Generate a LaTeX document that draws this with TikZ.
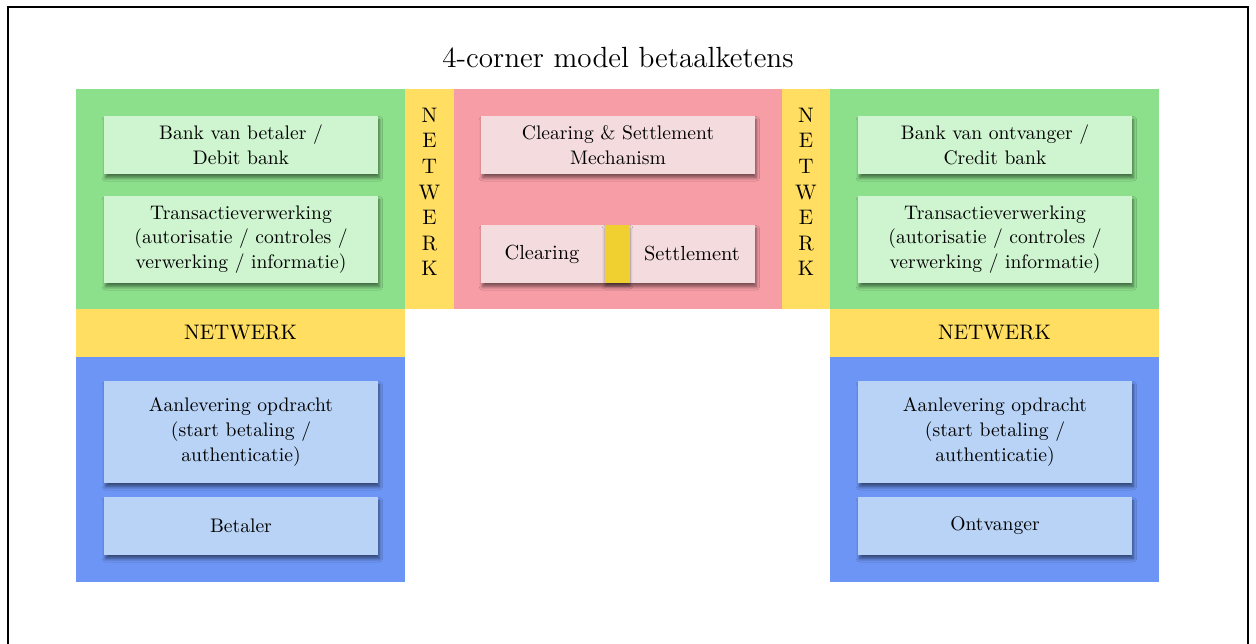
\documentclass[tikz,border=0pt]{standalone}
\usepackage{tikz}
\usetikzlibrary{shadows.blur}

\definecolor{bankgreen}{HTML}{8CE08C}
\definecolor{cardgreen}{HTML}{CEF5D0}
\definecolor{netyellow}{HTML}{FFDE62}
\definecolor{csmred}{HTML}{F79DA6}
\definecolor{cardpink}{HTML}{F4DCDE}
\definecolor{userblue}{HTML}{6D95F5}
\definecolor{cardblue}{HTML}{B8D3F5}
\definecolor{stripyellow}{HTML}{F0D030}

\tikzset{
  cardtext/.style={inner sep=0pt, align=center, font=\fontsize{9.8}{12.3}\selectfont},
  card/.style={cardtext, minimum width=137pt,
    blur shadow={shadow xshift=0.7pt, shadow yshift=-1.9pt, shadow blur radius=1.6pt, shadow blur steps=6, shadow opacity=50}},
  netlabel/.style={font=\fontsize{10.5}{12.5}\selectfont, align=center, inner sep=0pt}
}

\begin{document}
\begin{tikzpicture}[x=0.5pt,y=-0.5pt]
        \useasboundingbox (0,0) rectangle (1256,643);
        \draw[line width=0.8pt] (8,650) -- (8,7) -- (1248,7) -- (1248,650);
        \node[font=\fontsize{14.6}{17}\selectfont] (title) at (618,58) {4-corner model betaalketens};
        % blocks
        \fill[bankgreen] (76,89) rectangle (405,309);
        \fill[bankgreen] (830,89) rectangle (1159,309);
        \fill[netyellow] (405,89) rectangle (454,309);
        \fill[netyellow] (782,89) rectangle (830,309);
        \fill[csmred] (454,89) rectangle (782,309);
        \fill[netyellow] (76,309) rectangle (405,357);
        \fill[netyellow] (830,309) rectangle (1159,357);
        \fill[userblue] (76,357) rectangle (405,582);
        \fill[userblue] (830,357) rectangle (1159,582);
        % netwerk labels
        \node[netlabel] (netL) at (429.5,192) {N\\[0.3pt]E\\[0.3pt]T\\[0.3pt]W\\[0.3pt]E\\[0.3pt]R\\[0.3pt]K};
        \node[netlabel] (netR) at (806,192) {N\\[0.3pt]E\\[0.3pt]T\\[0.3pt]W\\[0.3pt]E\\[0.3pt]R\\[0.3pt]K};
        \node[netlabel] (netBL) at (240.5,333) {NETWERK};
        \node[netlabel] (netBR) at (994.5,333) {NETWERK};
        % debit side
        \node[card, fill=cardgreen, minimum height=29pt] (debit) at (241,145) {Bank van betaler /\\Debit bank};
        \node[card, fill=cardgreen, minimum height=43.5pt] (transL) at (241,239.5) {Transactieverwerking\\(autorisatie / controles /\\verwerking / informatie)};
        \node[card, fill=cardblue, minimum height=51pt] (aanL) at (241,432) {Aanlevering opdracht\\(start betaling /\\authenticatie)};
        \node[card, fill=cardblue, minimum height=29pt] (betaler) at (241,526) {Betaler};
        % clearing & settlement
        \node[card, fill=cardpink, minimum height=29pt] (csm) at (618,145) {Clearing \& Settlement\\Mechanism};
        \node[card, fill=cardpink, minimum height=29pt] (cs) at (618,254) {};
        \node[fill=stripyellow, minimum width=12.5pt, minimum height=29pt, inner sep=0pt,
          blur shadow={shadow xshift=0pt, shadow yshift=-1.6pt, shadow blur radius=1.4pt, shadow blur steps=5, shadow opacity=40}] (strip) at (617.5,254) {};
        \node[cardtext, font=\fontsize{10.2}{12.3}\selectfont] (clearing) at (542,254) {Clearing};
        \node[cardtext, font=\fontsize{10.2}{12.3}\selectfont] (settlement) at (692,254) {Settlement};
        % credit side
        \node[card, fill=cardgreen, minimum height=29pt] (credit) at (995,145) {Bank van ontvanger /\\Credit bank};
        \node[card, fill=cardgreen, minimum height=43.5pt] (transR) at (995,239.5) {Transactieverwerking\\(autorisatie / controles /\\verwerking / informatie)};
        \node[card, fill=cardblue, minimum height=51pt] (aanR) at (995,432) {Aanlevering opdracht\\(start betaling /\\authenticatie)};
        \node[card, fill=cardblue, minimum height=29pt] (ontvanger) at (995,526) {Ontvanger};
\end{tikzpicture}
\end{document}
